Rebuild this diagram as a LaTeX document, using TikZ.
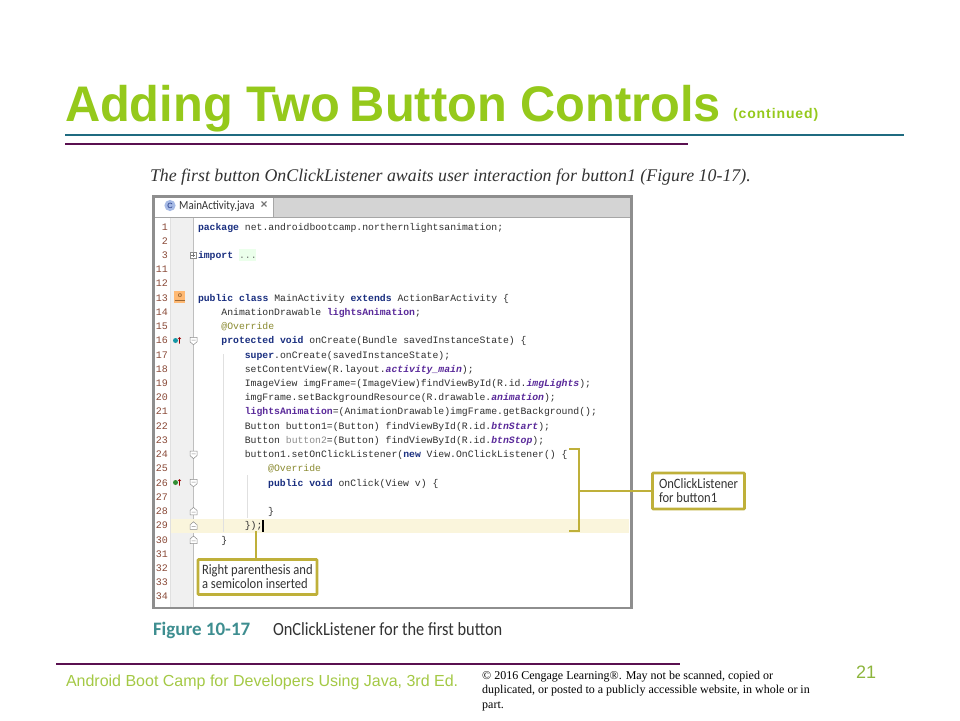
\documentclass[tikz,border=0pt]{standalone}
\usepackage{fontspec}
\setmainfont{Liberation Sans}
\newfontfamily\cfam{Liberation Mono}
\newfontfamily\srfam{Liberation Serif}
\newfontfamily\calb{Carlito}
\newfontfamily\calc[FakeStretch=0.88]{Carlito}
\newfontfamily\ttlfont[FakeStretch=0.975]{Liberation Sans}
\newfontfamily\contfont[LetterSpace=6.5]{Liberation Sans}
\definecolor{ttl}{HTML}{95C91B}
\definecolor{foot}{HTML}{A4C945}
\definecolor{pgc}{HTML}{8DB53C}
\definecolor{teal1}{HTML}{1F6B80}
\definecolor{plum}{HTML}{5A1050}
\definecolor{frame1}{HTML}{8E8E8E}
\definecolor{tabbar}{HTML}{D4D4D4}
\definecolor{gutter}{HTML}{F0F0F0}
\definecolor{hl}{HTML}{FAF5DC}
\definecolor{gold}{HTML}{BFB03A}
\definecolor{navy}{HTML}{1A2F80}
\definecolor{field}{HTML}{5A2A9A}
\definecolor{annot}{HTML}{8A8A30}
\definecolor{lnum}{HTML}{8A4A38}
\definecolor{codec}{HTML}{303030}
\definecolor{figt}{HTML}{3E8E90}
\newcommand{\kwd}[1]{\textcolor{navy}{\bfseries #1}}
\newcommand{\fdn}[1]{\textcolor{field}{\bfseries #1}}
\newcommand{\fdi}[1]{\textcolor{field}{\bfseries\itshape #1}}
\newcommand{\ann}[1]{\textcolor{annot}{#1}}
\newcommand{\rowy}[1]{\fpeval{227+14.23*(#1)}}
\newcommand{\codeln}[4]{\node[codetxt] (code#1) at ({198+23.4*#2},{\rowy{#1}+3}) {#3 #4};}
\tikzset{
  codetxt/.style={anchor=base west,inner sep=0,outer sep=0,text=codec,font=\cfam\fontsize{9.78}{11}\selectfont},
  numtxt/.style={anchor=base east,inner sep=0,text=lnum,font=\cfam\fontsize{10}{11}\selectfont},
  callout/.style={draw=gold,line width=2.8pt,fill=white,rounded corners=0.8pt,inner sep=0,align=flush left,text=black!80,font=\calc\fontsize{14.3}{14}\selectfont},
  goldline/.style={draw=gold,line width=2.8pt},
  foldmark/.style={draw=black!45,fill=white,line width=0.5pt},
  free/.style={anchor=base west,inner sep=0,outer sep=0},
}
\begin{document}
\begin{tikzpicture}[x=1pt,y=-1pt]
\useasboundingbox (0,0) rectangle (960,720);
\fill[white] (0,0) rectangle (960,720);
% title
\node[free,text=ttl,font=\ttlfont\bfseries\fontsize{50}{50}\selectfont] (title) at (65,121) {Adding Two\hspace{-4pt} Button Controls};
\node[free,text=ttl,font=\contfont\bfseries\fontsize{14}{14}\selectfont] (cont) at (733,118) {(continued)};
\draw[teal1,line width=2pt] (65,135) -- (904,135);
\draw[plum,line width=2pt] (65,144) -- (688,144);
% intro
\node[free,text=black!80,font=\srfam\itshape\fontsize{17.85}{18}\selectfont] (intro) at (150,181) {The first button OnClickListener awaits user interaction for button1 (Figure 10-17).};
% window
\fill[white] (154,197) rectangle (631,608);
\fill[tabbar] (155,198) rectangle (630,217);
\fill[gutter] (170,218) rectangle (193,607);
\draw[black!12,line width=0.5pt] (170,218) -- (170,607);
\draw[black!25,line width=0.5pt] (193,218) -- (193,607);
\fill[white] (155,198) rectangle (273,217);
\draw[black!35,line width=0.5pt] (273,198) -- (273,217);
\draw[black!35,line width=0.5pt] (155,217.5) -- (630,217.5);
\fill[hl] (170.5,518.5) rectangle (629,532.5);
\draw[black!12,line width=0.5pt] (223,354) -- (223,532);
\draw[black!12,line width=0.5pt] (247,475) -- (247,518);
\draw[frame1,line width=2.6pt] (153.5,196.5) rectangle (631.5,608);
% tab
\fill[cyan!45!blue!35] (170,205.5) circle (5.6);
\node[inner sep=0,font=\fontsize{7.5}{7.5}\selectfont,text=navy] (cicon) at (170,205.5) {C};
\node[anchor=base west,inner sep=0,text=black!80,font=\calc\fontsize{12.4}{12.4}\selectfont] (tabt) at (179,209) {MainActivity.java};
\node[inner sep=0,text=black!55,font=\bfseries\fontsize{12}{12}\selectfont] (tabx) at (264,205) {×};
% line numbers
\foreach \r/\n in {0/1,1/2,2/3,3/11,4/12,5/13,6/14,7/15,8/16,9/17,10/18,11/19,12/20,13/21,14/22,15/23,16/24,17/25,18/26,19/27,20/28,21/29,22/30,23/31,24/32,25/33,26/34}
  \node[numtxt] (ln\n) at (168,{\rowy{\r}+3}) {\n};
% code
\fill[green!8] (239,249) rectangle (256,261);
\codeln{0}{0}{\kwd{package}}{net.androidbootcamp.northernlightsanimation;}
\codeln{2}{0}{\kwd{import}}{\textcolor{black!55}{...}}
\codeln{5}{0}{\kwd{public class}}{MainActivity \kwd{extends} ActionBarActivity \{}
\codeln{6}{1}{AnimationDrawable}{\fdn{lightsAnimation};}
\codeln{7}{1}{\ann{@Override}}{}
\codeln{8}{1}{\kwd{protected void}}{onCreate(Bundle savedInstanceState) \{}
\codeln{9}{2}{\kwd{super}.onCreate(savedInstanceState);}{}
\codeln{10}{2}{setContentView(R.layout.\fdi{activity\_main});}{}
\codeln{11}{2}{ImageView}{imgFrame=(ImageView)findViewById(R.id.\fdi{imgLights});}
\codeln{12}{2}{imgFrame.setBackgroundResource(R.drawable.\fdi{animation});}{}
\codeln{13}{2}{\fdn{lightsAnimation}=(AnimationDrawable)imgFrame.getBackground();}{}
\codeln{14}{2}{Button}{button1=(Button) findViewById(R.id.\fdi{btnStart});}
\codeln{15}{2}{Button}{\textcolor{black!45}{button2}=(Button) findViewById(R.id.\fdi{btnStop});}
\codeln{16}{2}{button1.setOnClickListener(\kwd{new}}{View.OnClickListener() \{}
\codeln{17}{3}{\ann{@Override}}{}
\codeln{18}{3}{\kwd{public void}}{onClick(View v) \{}
\codeln{20}{3}{\}}{}
\codeln{21}{2}{\});}{}
\codeln{22}{1}{\}}{}
\fill[black] (262.4,520) rectangle (263.6,532);
% gutter marks
\draw[black!45,line width=0.5pt,fill=white] (190,252) rectangle (196,258);
\draw[black!55,line width=0.4pt] (191,255) -- (195,255) (193,253) -- (193,257);
\fill[orange!55!white] (174,291) rectangle (185,303);
\draw[brown!80!black,line width=0.8pt] (174.5,300.5) -- (184.5,300.5);
\node[inner sep=0,text=brown!80!black,font=\bfseries\fontsize{7}{7}\selectfont] (ovr) at (180,296) {o};
\fill[teal1!70!cyan] (175.5,340.5) circle (2.5);
\fill[green!45!black!80] (175.5,482.5) circle (2.5);
\draw[red!60!black,line width=0.6pt] (179.5,343.5) -- (179.5,337.5) (178,339) -- (179.5,337.5) -- (181,339);
\draw[red!60!black,line width=0.6pt] (179.5,485.5) -- (179.5,479.5) (178,481) -- (179.5,479.5) -- (181,481);
\foreach \yy in {340.8,454.6,482.8}
  \draw[foldmark] (190,\yy-3.5) -- (197,\yy-3.5) -- (197,\yy+1) -- (193.5,\yy+4) -- (190,\yy+1) -- cycle
    (191.5,\yy-.8) -- (195.5,\yy-.8);
\foreach \yy in {511.4,525.8,540}
  \draw[foldmark] (190,\yy+3.5) -- (197,\yy+3.5) -- (197,\yy-1) -- (193.5,\yy-4) -- (190,\yy-1) -- cycle
    (191.5,\yy+.8) -- (195.5,\yy+.8);
% callouts
\node[callout,minimum width=119pt,minimum height=35pt,text width=111pt] (semi) at (257.5,577) {Right parenthesis and\\a semicolon inserted};
\node[callout,minimum width=92pt,minimum height=36pt,text width=79pt] (listen) at (698.5,491) {OnClickListener\\for button1};
\coordinate (semitop) at (256,531);
\coordinate (bt) at (569,449);
\coordinate (bb) at (569,531);
\coordinate (bm) at (579,491);
\draw[goldline] (semitop) -- (semitop |- semi.north);
\draw[goldline] (bt) -- (579,449) -- (579,531) -- (bb);
\draw[goldline] (bm) -- (listen.west);
% caption
\node[free,text=figt,font=\calb\bfseries\fontsize{19}{19}\selectfont] (figl) at (153,635) {Figure 10-17};
\node[free,text=black!80,font=\calc\fontsize{18.6}{19}\selectfont] (figc) at (273,635) {OnClickListener for the first button};
% footer
\draw[plum,line width=2pt] (56,664) -- (680,664);
\node[free,text=foot,font=\fontsize{16}{16}\selectfont] (foot1) at (66,686) {Android Boot Camp for Developers Using Java, 3rd Ed.};
\node[anchor=north west,inner sep=0,align=left,text=black,font=\srfam\fontsize{12}{14.5}\selectfont] (copy) at (482,670.5) {© 2016 Cengage Learning®.  May not be scanned, copied or\\duplicated, or posted to a publicly accessible website, in whole or in\\part.};
\node[free,text=pgc,font=\fontsize{18}{18}\selectfont] (pg) at (856,678) {21};
\end{tikzpicture}
\end{document}
